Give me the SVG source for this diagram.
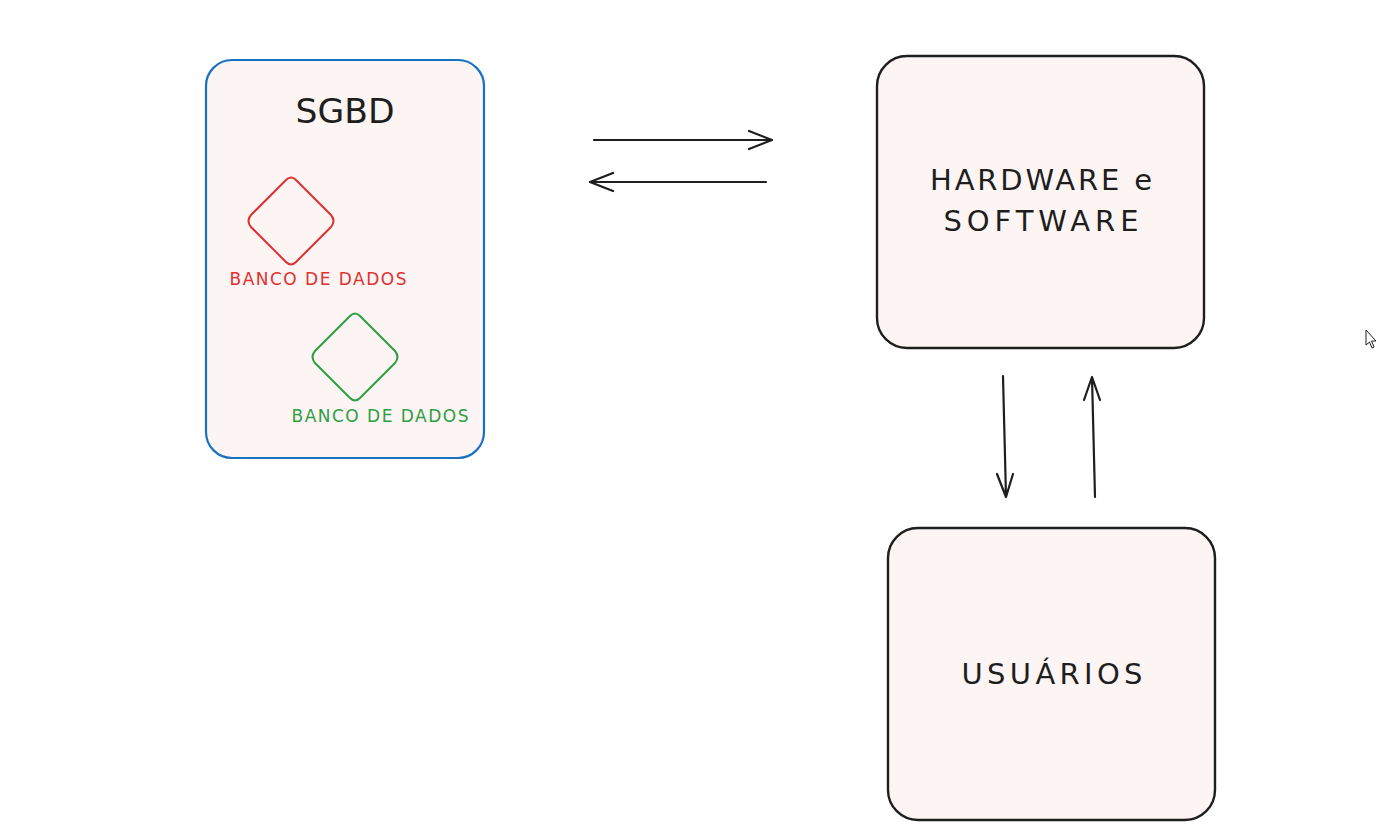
<svg xmlns="http://www.w3.org/2000/svg" width="1393" height="839" viewBox="0 0 1393 839">
<style>
.box{fill:#fdf5f4;stroke:#1e1e1e;stroke-width:2.4}
.lbl{font-family:"DejaVu Sans","Liberation Sans",sans-serif;fill:#1e1e1e;text-anchor:middle}
.db{font-family:"DejaVu Sans","Liberation Sans",sans-serif;font-size:17px;text-anchor:middle}
.conn{stroke:#1e1e1e;stroke-width:2.2;fill:none;stroke-linecap:round;stroke-linejoin:round}
</style>
<rect width="1393" height="839" fill="#ffffff"/>
<g id="sgbd">
<rect x="206" y="60" width="278" height="398" rx="26" fill="#fdf5f4" stroke="#1971c2" stroke-width="2.2"/>
<text class="lbl" x="345" y="123" font-size="33" textLength="99" lengthAdjust="spacingAndGlyphs">SGBD</text>
</g>
<g id="db-red">
<path d="M286,180 Q291,175 296,180 L331,215 Q336,221 331,227 L296,262 Q291,267 286,262 L251,227 Q246,221 251,215 Z" fill="none" stroke="#e03131" stroke-width="2"/>
<text class="db" x="318" y="285" fill="#e03131" textLength="177" lengthAdjust="spacing">BANCO DE DADOS</text>
</g>
<g id="db-green">
<path d="M350,316 Q355,311 360,316 L395,351 Q400,357 395,363 L360,398 Q355,403 350,398 L315,363 Q310,357 315,351 Z" fill="none" stroke="#2f9e44" stroke-width="2"/>
<text class="db" x="380" y="422" fill="#2f9e44" textLength="177" lengthAdjust="spacing">BANCO DE DADOS</text>
</g>
<g id="hw">
<rect class="box" x="877" y="56" width="327" height="292" rx="30"/>
<text class="lbl" x="1041" y="190" font-size="29" textLength="222" lengthAdjust="spacing">HARDWARE e</text>
<text class="lbl" x="1041" y="231" font-size="29" textLength="195" lengthAdjust="spacing">SOFTWARE</text>
</g>
<g id="usuarios">
<rect class="box" x="888" y="528" width="327" height="292" rx="30"/>
<text class="lbl" x="1052" y="684" font-size="29" textLength="181" lengthAdjust="spacing">USUÁRIOS</text>
</g>
<g id="connectors">
<path class="conn" d="M594,140 L772,140 M749,131 L772,140 L749,149"/>
<path class="conn" d="M766,182 L590,182 M613,173 L590,182 L613,191"/>
<path class="conn" d="M1003,376 L1006,497 M997,474 L1006,497 L1013,474"/>
<path class="conn" d="M1095,497 L1092,377 M1084,400 L1092,377 L1100,400"/>
</g>
<g id="cursor">
<path d="M1366,330 L1366,345 L1369.5,342 L1372,348 L1374,347 L1371.5,341 L1376,341 Z" fill="#ffffff" stroke="#1e1e1e" stroke-width="1"/>
</g>
</svg>
